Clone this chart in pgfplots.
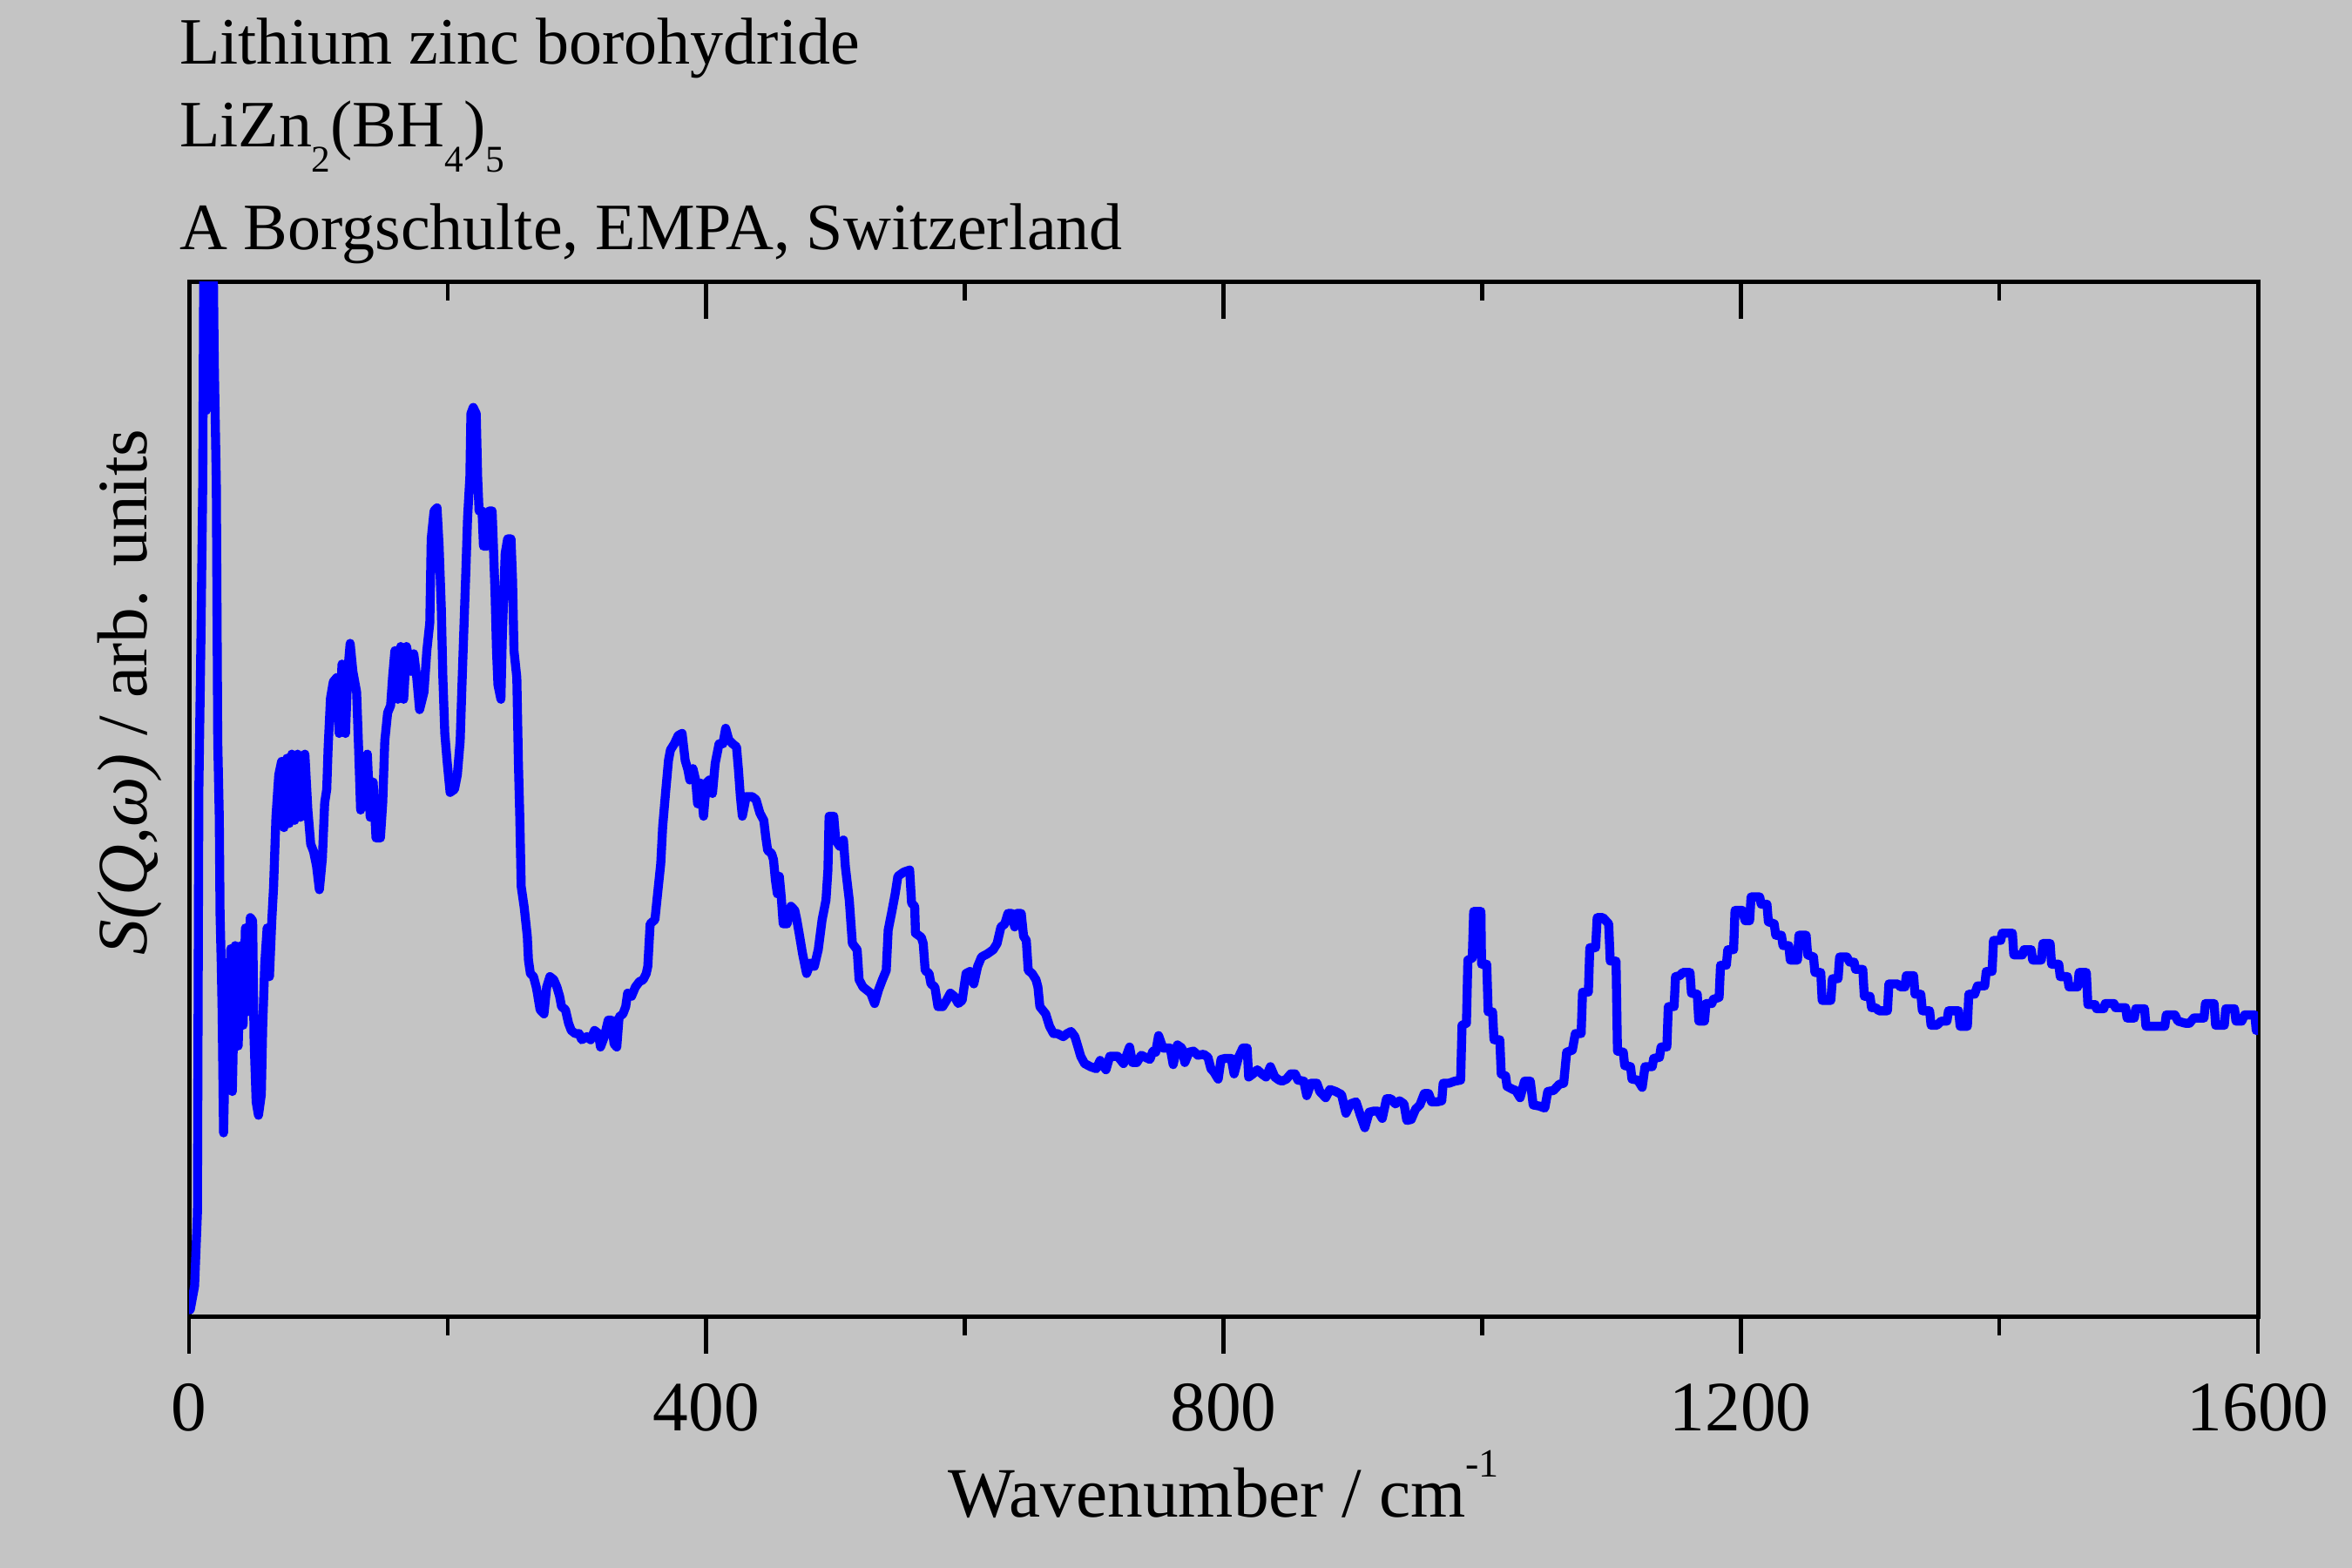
\documentclass[border=0pt]{standalone}
\usepackage{fontspec}
\setmainfont{Liberation Serif}
\usepackage{pgfplots}
\pgfplotsset{compat=1.18}
\definecolor{bg}{RGB}{196,196,196}
\definecolor{curve}{RGB}{0,0,255}
\newcommand{\sub}[1]{\raisebox{-4.35pt}{\fontsize{6.5}{6.5}\selectfont #1}}
\begin{document}
\begin{tikzpicture}
\fill[bg] (0,0) rectangle (405pt,270pt);
\pgfplotsset{
  common/.style={
    at={(32.55pt,43.2pt)}, anchor=south west,
    width=356.25pt, height=178.2pt, scale only axis,
    xmin=0, xmax=1600, ymin=0, ymax=1,
    xtick={0,400,800,1200,1600}, minor x tick num=1,
    ytick=\empty,
    major tick length=6.3pt, minor tick length=3.1pt,
    every tick/.style={black, line width=0.7pt},
    /pgf/number format/1000 sep={},
    /pgf/number format/assume math mode=true,
  }
}
\begin{axis}[common,
  xtick pos=left, tick align=outside,
  axis line style={line width=0.75pt},
  xticklabel style={font=\fontsize{12.2}{12.2}\selectfont, yshift=-1.7pt},
  xlabel={Wavenumber / cm\raisebox{6.9pt}{\fontsize{6.9}{6.9}\selectfont -1}},
  ylabel={\textit{S(Q,ω)} / arb. units},
  every axis x label/.style={at={(axis description cs:0.5,0)}, anchor=base, yshift=-34.5pt, font=\fontsize{12.2}{12.2}\selectfont},
  every axis y label/.style={at={(axis description cs:-0.02063,0.604)}, rotate=90, anchor=base, font=\fontsize{12.2}{12.2}\selectfont},
]
\addplot[color=curve, line width=1.55pt, line join=round, line cap=round, no markers] table {
0.9 0.007
4.3 0.030
6.5 0.101
7.6 0.510
9.2 0.655
10.6 0.806
11.5 1.05
11.7 0.876
13.3 0.876
13.5 1.05
18.5 1.05
19.5 0.923
21.1 0.806
22.2 0.557
23.4 0.483
24.0 0.389
24.9 0.342
25.6 0.295
26.7 0.178
29.0 0.316
30.8 0.282
32.3 0.356
33.5 0.218
35.7 0.359
38.0 0.262
40.2 0.359
41.8 0.282
43.6 0.376
45.1 0.295
47.4 0.386
49.2 0.383
50.3 0.269
51.9 0.208
53.7 0.195
55.9 0.215
57.0 0.282
58.6 0.342
60.4 0.376
62.2 0.329
64.0 0.383
65.4 0.416
67.2 0.483
69.4 0.524
71.6 0.537
73.4 0.473
75.7 0.540
77.5 0.477
79.5 0.544
81.7 0.480
84.0 0.544
86.2 0.483
89.6 0.544
91.9 0.490
94.1 0.457
96.3 0.450
98.6 0.436
100.8 0.413
103.1 0.443
104.9 0.497
106.5 0.510
107.6 0.551
109.4 0.598
111.6 0.614
114.3 0.618
116.1 0.564
118.3 0.631
121.0 0.564
122.8 0.624
124.6 0.651
126.7 0.624
129.6 0.604
131.1 0.551
132.7 0.490
135.6 0.537
137.9 0.544
140.1 0.483
142.4 0.517
144.6 0.463
148.0 0.463
149.8 0.497
151.4 0.557
153.6 0.584
155.9 0.591
157.4 0.618
159.2 0.644
161.5 0.597
163.7 0.648
166.0 0.597
168.2 0.648
171.6 0.624
173.8 0.641
176.1 0.618
178.3 0.587
181.7 0.604
183.9 0.644
186.2 0.671
187.3 0.752
189.5 0.779
191.8 0.782
193.4 0.745
195.1 0.685
196.3 0.618
197.8 0.564
199.6 0.537
201.9 0.507
205.3 0.510
207.5 0.524
209.7 0.557
210.9 0.604
213.1 0.685
214.2 0.725
215.4 0.772
217.2 0.812
218.0 0.873
219.8 0.879
222.1 0.873
223.2 0.812
224.3 0.779
226.6 0.779
227.7 0.745
230.6 0.745
232.2 0.779
234.4 0.779
235.6 0.738
236.7 0.698
237.8 0.644
238.9 0.611
241.2 0.597
242.3 0.658
243.4 0.698
244.5 0.738
246.4 0.752
249.0 0.752
250.2 0.712
251.3 0.644
253.5 0.618
254.7 0.537
255.8 0.483
256.9 0.416
259.2 0.396
261.6 0.368
262.5 0.345
264.0 0.332
266.4 0.329
268.5 0.319
269.4 0.313
271.5 0.297
274.5 0.293
276.6 0.319
279.1 0.329
282.1 0.326
284.5 0.319
286.6 0.310
288.1 0.300
291.1 0.297
293.5 0.284
295.6 0.277
298.6 0.274
301.6 0.274
303.7 0.268
307.6 0.271
310.6 0.268
313.6 0.277
316.6 0.274
318.2 0.261
321.2 0.271
324.2 0.287
326.6 0.287
328.7 0.264
330.8 0.261
332.6 0.290
335.6 0.293
337.7 0.300
339.2 0.313
342.2 0.310
345.2 0.319
348.2 0.324
351.2 0.326
353.6 0.332
354.8 0.339
356.6 0.380
360.3 0.384
362.7 0.413
364.8 0.438
366.3 0.474
368.7 0.509
370.8 0.538
372.3 0.548
375.3 0.554
378.3 0.562
381.3 0.564
383.7 0.538
385.8 0.529
387.3 0.519
389.7 0.530
391.8 0.519
393.3 0.496
395.7 0.516
397.9 0.484
400.0 0.516
402.4 0.519
404.8 0.506
406.9 0.535
409.9 0.554
412.9 0.554
415.0 0.569
417.4 0.558
420.4 0.554
423.4 0.551
424.9 0.529
426.4 0.503
427.9 0.484
430.9 0.503
435.4 0.503
438.5 0.500
441.5 0.487
444.5 0.480
446.0 0.464
447.5 0.451
450.5 0.448
452.0 0.442
453.5 0.422
455.0 0.409
456.5 0.426
458.0 0.406
459.5 0.380
462.5 0.380
465.5 0.397
468.5 0.393
470.0 0.384
472.1 0.369
474.5 0.351
477.6 0.332
480.6 0.342
483.6 0.339
486.6 0.355
489.6 0.384
492.6 0.403
494.1 0.432
495.0 0.484
498.6 0.484
500.1 0.461
503.1 0.455
506.1 0.461
507.6 0.435
510.6 0.403
513.0 0.361
516.7 0.355
518.2 0.326
521.2 0.319
524.2 0.316
527.2 0.313
530.2 0.303
533.2 0.316
536.2 0.326
539.2 0.335
540.7 0.374
543.7 0.393
546.1 0.409
548.2 0.426
552.7 0.430
557.3 0.432
558.8 0.400
561.2 0.397
561.8 0.371
566.3 0.367
567.8 0.361
569.3 0.335
572.3 0.332
573.8 0.322
576.8 0.319
579.2 0.300
582.8 0.300
585.8 0.306
588.8 0.313
591.8 0.310
594.9 0.303
597.9 0.306
600.9 0.332
603.9 0.334
606.9 0.322
609.9 0.339
612.9 0.348
617.4 0.351
621.9 0.355
624.9 0.361
627.9 0.377
630.9 0.380
633.3 0.390
636.4 0.390
638.5 0.377
640.0 0.390
643.6 0.390
645.4 0.368
647.5 0.364
649.0 0.335
652.0 0.332
655.0 0.326
656.5 0.319
658.0 0.300
662.5 0.293
665.5 0.281
668.5 0.274
671.5 0.274
676.1 0.271
679.1 0.274
682.1 0.276
685.1 0.271
687.5 0.261
689.6 0.252
692.6 0.245
697.1 0.242
701.6 0.240
704.6 0.248
709.1 0.239
712.1 0.252
718.2 0.252
722.7 0.245
727.4 0.261
729.6 0.246
733.0 0.246
736.4 0.253
739.7 0.251
743.1 0.249
745.4 0.257
747.6 0.256
749.8 0.272
753.2 0.260
758.8 0.260
761.1 0.244
764.4 0.263
767.8 0.260
770.1 0.246
773.4 0.256
776.8 0.257
780.2 0.253
784.7 0.254
788.0 0.251
790.3 0.240
792.5 0.237
795.9 0.230
798.1 0.249
801.5 0.250
806.0 0.250
808.2 0.235
811.6 0.251
815.0 0.260
818.3 0.260
819.5 0.232
822.8 0.235
826.2 0.239
829.6 0.235
832.9 0.232
836.3 0.242
839.7 0.232
843.0 0.229
845.3 0.228
848.7 0.230
852.0 0.235
855.4 0.235
857.6 0.229
862.1 0.228
864.4 0.214
867.7 0.226
872.2 0.226
874.5 0.218
879.0 0.212
882.3 0.220
886.8 0.218
891.3 0.215
894.7 0.197
898.1 0.206
902.5 0.208
905.9 0.195
909.3 0.183
912.7 0.198
916.0 0.199
919.4 0.199
922.8 0.192
926.1 0.211
929.5 0.211
932.9 0.206
936.2 0.209
939.6 0.206
941.8 0.190
945.2 0.191
948.6 0.201
951.9 0.205
955.3 0.216
958.7 0.216
960.9 0.208
965.4 0.208
968.8 0.209
969.9 0.226
974.4 0.226
978.9 0.228
983.4 0.229
984.5 0.282
987.9 0.284
989.0 0.345
992.4 0.347
993.5 0.392
999.1 0.392
999.6 0.341
1003.6 0.341
1004.7 0.295
1008.1 0.295
1009.2 0.268
1013.7 0.268
1014.8 0.235
1018.2 0.233
1019.3 0.223
1023.8 0.220
1026.1 0.219
1029.4 0.212
1032.8 0.228
1037.3 0.228
1039.5 0.205
1044.0 0.204
1048.5 0.202
1050.8 0.218
1055.3 0.219
1059.7 0.225
1063.1 0.226
1065.4 0.256
1069.8 0.258
1072.1 0.274
1076.6 0.274
1077.7 0.314
1082.2 0.314
1083.3 0.357
1087.8 0.357
1089.0 0.386
1093.5 0.386
1097.9 0.380
1099.1 0.344
1103.6 0.344
1104.7 0.257
1109.2 0.256
1110.3 0.243
1114.8 0.242
1115.9 0.230
1120.4 0.229
1123.8 0.222
1126.0 0.242
1131.6 0.242
1132.7 0.250
1137.2 0.251
1138.4 0.261
1142.9 0.261
1144.0 0.300
1148.5 0.300
1149.6 0.329
1153.0 0.330
1155.2 0.333
1160.8 0.333
1161.9 0.313
1166.4 0.312
1167.6 0.286
1172.0 0.286
1173.2 0.303
1177.7 0.303
1178.8 0.307
1183.3 0.309
1184.4 0.340
1188.9 0.340
1190.0 0.355
1194.5 0.355
1195.6 0.393
1201.2 0.393
1203.5 0.383
1206.9 0.383
1208.0 0.406
1214.7 0.406
1215.8 0.399
1220.3 0.399
1221.4 0.382
1225.9 0.380
1227.1 0.369
1231.5 0.369
1232.7 0.359
1237.2 0.359
1238.3 0.345
1243.9 0.345
1245.0 0.369
1250.6 0.369
1251.8 0.350
1256.3 0.348
1257.4 0.333
1261.9 0.333
1263.0 0.306
1269.7 0.306
1270.9 0.327
1275.3 0.327
1276.5 0.348
1282.1 0.348
1284.3 0.343
1287.7 0.343
1288.8 0.336
1294.4 0.336
1295.6 0.310
1300.0 0.310
1301.2 0.299
1304.5 0.299
1306.8 0.296
1313.5 0.296
1314.6 0.322
1321.4 0.322
1323.6 0.319
1327.0 0.319
1328.1 0.330
1333.7 0.330
1334.8 0.312
1339.3 0.312
1340.5 0.296
1346.1 0.296
1347.2 0.282
1351.7 0.282
1355.1 0.286
1359.5 0.286
1360.7 0.296
1368.5 0.296
1369.7 0.281
1375.3 0.281
1376.4 0.312
1380.9 0.312
1383.1 0.320
1388.7 0.320
1389.9 0.334
1394.4 0.334
1395.5 0.364
1401.1 0.364
1402.2 0.371
1410.1 0.371
1411.2 0.350
1417.9 0.350
1419.1 0.355
1424.7 0.355
1425.8 0.345
1432.5 0.345
1433.7 0.361
1439.3 0.361
1440.4 0.341
1446.0 0.341
1447.1 0.329
1452.7 0.329
1453.9 0.319
1460.6 0.319
1461.7 0.333
1467.3 0.333
1468.5 0.302
1474.1 0.302
1475.2 0.298
1480.8 0.298
1481.9 0.303
1488.7 0.303
1489.8 0.299
1497.7 0.299
1498.8 0.289
1504.4 0.289
1505.5 0.298
1512.3 0.298
1513.4 0.281
1528.0 0.281
1529.1 0.292
1535.8 0.292
1538.1 0.286
1543.7 0.284
1547.1 0.284
1550.4 0.289
1558.3 0.289
1559.4 0.303
1566.1 0.303
1567.3 0.282
1574.0 0.282
1575.1 0.298
1581.9 0.298
1583.0 0.286
1587.5 0.286
1589.7 0.292
1597.6 0.292
1598.7 0.277
1600.0 0.277
};
\end{axis}
\begin{axis}[common,
  xtick pos=right, tick align=inside,
  axis line style={draw=none},
  xticklabels={},
]
\end{axis}
\node[anchor=base west, inner sep=0pt, font=\fontsize{11.4}{11.4}\selectfont] at (30.7pt,258.9pt) {Lithium zinc borohydride};
\node[anchor=base west, inner sep=0pt, font=\fontsize{11.4}{11.4}\selectfont] at (30.7pt,244.65pt) {LiZn\sub{2}(BH\sub{4})\sub{5}};
\node[anchor=base west, inner sep=0pt, font=\fontsize{11.4}{11.4}\selectfont] at (30.7pt,226.95pt) {A Borgschulte, EMPA, Switzerland};
\pgfresetboundingbox
\useasboundingbox (0,0) rectangle (405pt,270pt);
\end{tikzpicture}
\end{document}
